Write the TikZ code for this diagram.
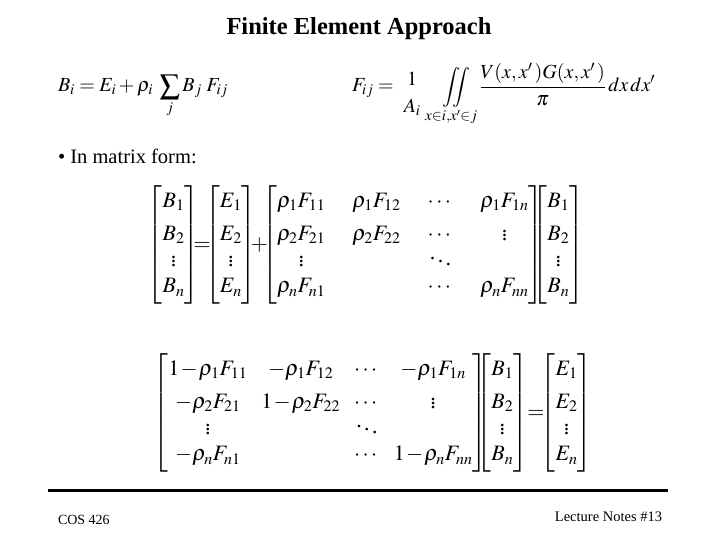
\documentclass[tikz,border=0pt]{standalone}
\usepackage{amsmath}
\usepackage{mathptmx}
\usepackage{fontspec}
\setmainfont{Liberation Serif}
\DeclareMathSizes{22}{22}{16}{12}
\DeclareMathSizes{20}{20}{15}{11}
\tikzset{
  txt/.style={inner sep=0pt, outer sep=0pt, text=black},
  eqfont/.style={font=\fontsize{20}{24}\selectfont},
  matfont/.style={font=\fontsize{22}{23}\selectfont},
}
\newcommand{\tightrel}[1]{\kern-8pt{#1}\kern-8pt}
\begin{document}
\begin{tikzpicture}[x=1pt,y=-1pt]
\useasboundingbox[fill=white] (0,0) rectangle (720,540);
\node[txt, anchor=base, font=\fontsize{24.5}{28}\selectfont\bfseries] (title) at (359,35) {Finite Element Approach};
\node[txt, anchor=base west, eqfont] (eqB) at (58,92)
  {$\displaystyle B_i = E_i + \rho_i\;\sum_j B_j\;F_{ij}$};
\node[txt, anchor=base west, eqfont] (eqF) at (352,92)
  {$\displaystyle F_{ij} = \;\raisebox{-7pt}{$\genfrac{}{}{0pt}{0}{1}{A_i}$}\;\;\,\iint\limits_{x\in i,x'\in j}\frac{V(x,x'\,)G(x,x'\,)}{\pi}\,dx\,dx'$};
\node[txt, anchor=base west, font=\fontsize{20.5}{24}\selectfont] (bullet) at (58,164) {\textbullet\ In matrix form:};
\node[txt, matfont] (mat1) at (366,245)
  {\setlength{\arraycolsep}{13.5pt}\renewcommand{\arraystretch}{1.15}%
  $\begin{bmatrix} B_1\\[6pt] B_2\\ \vdots\\ B_n\end{bmatrix}
  \tightrel{=}\begin{bmatrix} E_1\\[6pt] E_2\\ \vdots\\ E_n\end{bmatrix}
  \tightrel{+}\begin{bmatrix} \rho_1F_{11} & \rho_1F_{12} & \cdots & \rho_1F_{1n}\\[6pt]
  \rho_2F_{21} & \rho_2F_{22} & \cdots & \vdots\\
  \vdots & & \ddots & \\
  \rho_nF_{n1} & & \cdots & \rho_nF_{nn}\end{bmatrix}
  \kern-13pt\begin{bmatrix} B_1\\[6pt] B_2\\ \vdots\\ B_n\end{bmatrix}$};
\node[txt, matfont] (mat2) at (373,413)
  {\setlength{\arraycolsep}{7pt}\renewcommand{\arraystretch}{1.15}\medmuskip=1mu%
  $\begin{bmatrix} 1-\rho_1F_{11} & -\rho_1F_{12} & \cdots & -\rho_1F_{1n}\\[6pt]
  -\rho_2F_{21} & 1-\rho_2F_{22} & \cdots & \vdots\\
  \vdots & & \ddots & \\
  -\rho_nF_{n1} & & \cdots & 1-\rho_nF_{nn}\end{bmatrix}
  \kern-13pt\begin{bmatrix} B_1\\[6pt] B_2\\ \vdots\\ B_n\end{bmatrix}
  \kern-3pt{=}\kern-6pt\begin{bmatrix} E_1\\[6pt] E_2\\ \vdots\\ E_n\end{bmatrix}$};
\coordinate (ruleL) at (48,490);
\coordinate (ruleR) at (668,490);
\draw[line width=3pt] (ruleL) -- (ruleR);
\node[txt, anchor=base west, font=\fontsize{14}{16}\selectfont] (cos) at (58,524) {COS 426};
\node[txt, anchor=base east, font=\fontsize{14.5}{16}\selectfont] (notes) at (662,521) {Lecture Notes \#13};
\end{tikzpicture}
\end{document}
